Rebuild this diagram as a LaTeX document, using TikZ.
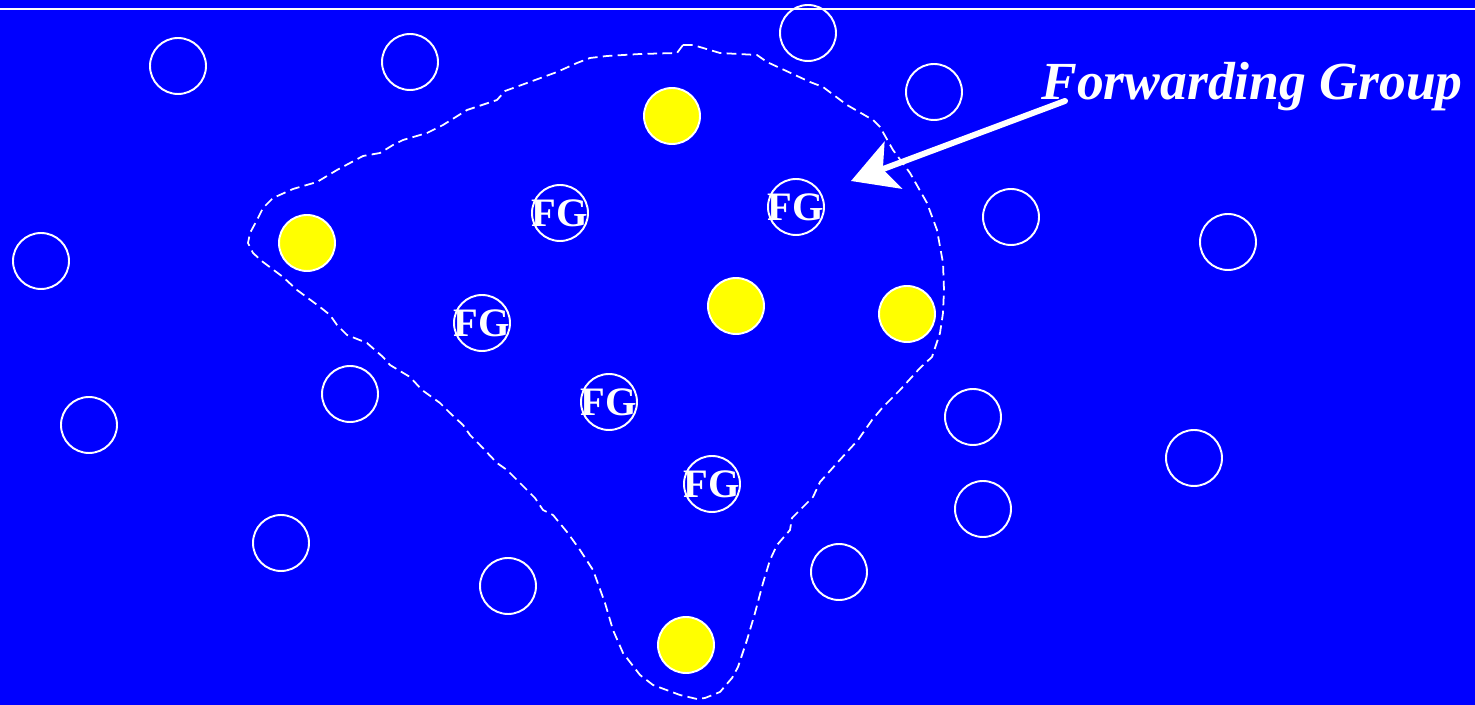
\documentclass[tikz,border=0pt]{standalone}
\usepackage{fontspec}
\setmainfont{Liberation Serif}
\usetikzlibrary{arrows.meta}
\definecolor{bgblue}{RGB}{0,0,255}
\definecolor{nodeyellow}{RGB}{255,255,0}
\tikzset{
  host/.style={circle, draw=white, line width=1.1pt, minimum size=1.12cm, inner sep=0pt},
  fgnode/.style={host, label={[text=white, inner sep=0pt, font=\bfseries\fontsize{23}{23}\selectfont]center:FG}},
  member/.style={host, fill=nodeyellow},
  boundary/.style={draw=white, line width=1pt, dash pattern=on 5.5pt off 3pt, line join=round},
  pointer/.style={draw=white, line width=3.4pt, line cap=round, -{Stealth[length=0.9cm,width=1.0cm,inset=0.22cm]}},
}
\begin{document}
\begin{tikzpicture}[x=0.02cm,y=-0.02cm]
\fill[bgblue] (0,0) rectangle (1475,705);
\useasboundingbox (0,0) rectangle (1475,705);
\coordinate (tl) at (0,9);
\coordinate (tr) at (1475,9);
\draw[white, line width=0.9pt] (tl) -- (tr);

% plain hosts
\node[host] (h1) at (178,66) {};
\node[host] (h2) at (410,62) {};
\node[host] (h3) at (808,33) {};
\node[host] (h4) at (934,92) {};
\node[host] (h5) at (41,261) {};
\node[host] (h6) at (1011,217) {};
\node[host] (h7) at (1228,242) {};
\node[host] (h8) at (89,425) {};
\node[host] (h9) at (350,394) {};
\node[host] (h10) at (973,417) {};
\node[host] (h11) at (1194,458) {};
\node[host] (h12) at (983,509) {};
\node[host] (h13) at (281,543) {};
\node[host] (h14) at (508,586) {};
\node[host] (h15) at (839,572) {};

% forwarding group nodes
\node[fgnode] (f1) at (560,213) {};
\node[fgnode] (f2) at (796,207) {};
\node[fgnode] (f3) at (482,323) {};
\node[fgnode] (f4) at (609,402) {};
\node[fgnode] (f5) at (712,484) {};

% members
\node[member] (m1) at (672,116) {};
\node[member] (m2) at (307,243) {};
\node[member] (m3) at (736,306) {};
\node[member] (m4) at (907,314) {};
\node[member] (m5) at (686,645) {};

% forwarding group boundary
\draw[boundary] (683,45) -- (693,45) -- (720,53) -- (757,55) -- (767,62) -- (810,82) -- (823,87) -- (847,105) -- (873,120) -- (880,127) -- (893,150) -- (910,173) -- (927,203) -- (937,230) -- (943,263) -- (944,290) -- (943,313) -- (940,333) -- (932,357) -- (920,368) -- (900,390) -- (883,407) -- (872,420) -- (858,440) -- (847,452) -- (820,482) -- (813,497) -- (800,510) -- (792,518) -- (790,530) -- (777,545) -- (770,560) -- (763,583) -- (755,613) -- (747,640) -- (738,667) -- (732,678) -- (720,692) -- (705,698) -- (697,699) -- (680,695) -- (653,685) -- (640,675) -- (623,653) -- (613,630) -- (605,603) -- (593,570) -- (580,550) -- (567,532) -- (553,515) -- (543,510) -- (535,498) -- (527,490) -- (507,470) -- (497,463) -- (480,445) -- (470,435) -- (463,425) -- (450,413) -- (440,403) -- (422,390) -- (410,377) -- (390,365) -- (383,357) -- (367,343) -- (347,335) -- (337,325) -- (330,315) -- (320,307) -- (297,290) -- (283,277) -- (263,262) -- (253,253) -- (248,243) -- (250,233) -- (257,220) -- (263,208) -- (273,198) -- (293,189) -- (317,182) -- (337,170) -- (363,156) -- (380,153) -- (393,145) -- (403,140) -- (427,133) -- (443,125) -- (467,110) -- (497,100) -- (505,91) -- (527,83) -- (557,72) -- (577,63) -- (590,58) -- (607,56) -- (640,54) -- (677,53) -- cycle;

% label and pointer
\node[text=white, font=\bfseries\itshape\fontsize{30.5}{30.5}\selectfont, anchor=base] (lbl) at (1252,100) {Forwarding Group};
\coordinate (ps) at (1065,101);
\coordinate (pe) at (851,181);
\draw[pointer] (ps) -- (pe);
\end{tikzpicture}
\end{document}
